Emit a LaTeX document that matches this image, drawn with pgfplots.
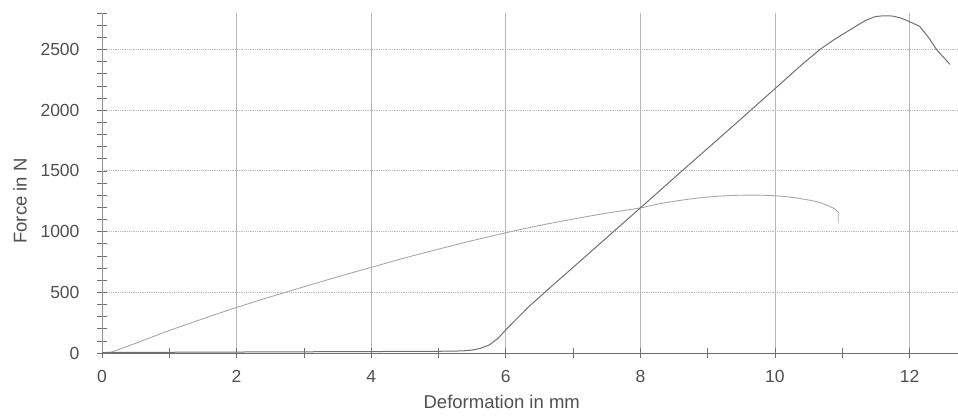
\documentclass[border=0pt]{standalone}
\usepackage{fontspec}
\setmainfont{Liberation Sans}
\usepackage{pgfplots}
\pgfplotsset{compat=1.18}
\definecolor{gridc}{HTML}{B8B8B8}
\definecolor{axc}{HTML}{707070}
\definecolor{cone}{HTML}{A8A8A8}
\definecolor{ctwo}{HTML}{707070}
\definecolor{txt}{HTML}{505050}
\begin{document}
\begin{tikzpicture}
\path[use as bounding box] (-102pt,-64pt) rectangle (856pt,353pt);
\begin{axis}[
  at={(0,0)}, anchor=south west,
  scale only axis, width=856pt, height=340pt,
  xmin=0, xmax=12.72, ymin=0, ymax=2800,
  clip=false,
  axis x line=bottom, axis y line=left,
  axis line style={-},
  x axis line style={draw=axc, line width=0.9pt},
  y axis line style={draw=gridc!80!black, line width=0.8pt},
  xtick={0,2,...,12}, minor xtick={1,3,...,11},
  ytick={0,500,...,2500}, minor ytick={100,200,...,2800},
  tick align=center,
  major tick length=10pt, minor tick length=10pt,
  every tick/.style={draw=axc, line width=0.7pt},
  xmajorgrids, ymajorgrids,
  x grid style={draw=gridc, line width=0.7pt},
  y grid style={draw=gridc, line width=0.8pt, densely dotted},
  /pgf/number format/assume math mode=true,
  /pgf/number format/set thousands separator={},
  ticklabel style={font=\fontsize{17.5}{20}\selectfont, text=txt},
  xticklabel style={yshift=-9pt},
  yticklabel style={xshift=-14pt},
  xlabel={Deformation in mm},
  ylabel={Force in N},
  label style={font=\fontsize{18.5}{21}\selectfont, text=txt},
  xlabel style={at={(axis description cs:0.467,0)}, anchor=center, yshift=-49pt},
  ylabel style={at={(axis description cs:-0.0958,0.447)}, anchor=center},
]
\addplot[cone, line width=0.9pt, smooth] coordinates {
(0.1,0) (0.5,80) (1,185) (1.5,282) (2,375) (2.5,462) (3,545) (3.5,627) (4,705)
(4.5,783) (5,855) (5.5,925) (6,990) (6.5,1050) (7,1103) (7.5,1152) (8,1195)
(8.34,1235) (8.84,1275) (9.3,1296) (9.7,1300) (10,1295) (10.3,1278) (10.62,1246)
(10.8,1210) (10.88,1190)};
\addplot[cone, line width=0.9pt] coordinates {(10.88,1190) (10.94,1160) (10.94,1070)};
\addplot[ctwo, line width=1pt] coordinates {
(0,4) (1,6) (2,8) (3,10) (4,12) (5,14) (5.35,17) (5.5,24) (5.62,38) (5.75,65)
(5.88,118) (6,190) (6.15,275) (6.33,375) (6.6,510) (7,705) (7.5,950) (8,1195)
(8.63,1505) (9,1685) (9.5,1930) (10,2177) (10.4,2375) (10.67,2500) (10.85,2570)
(10.97,2612) (11.2,2690) (11.35,2740) (11.49,2770) (11.6,2777) (11.75,2775)
(11.86,2760) (11.98,2734) (12.15,2690) (12.28,2600) (12.4,2500) (12.6,2377)};
\end{axis}
\end{tikzpicture}
\end{document}
